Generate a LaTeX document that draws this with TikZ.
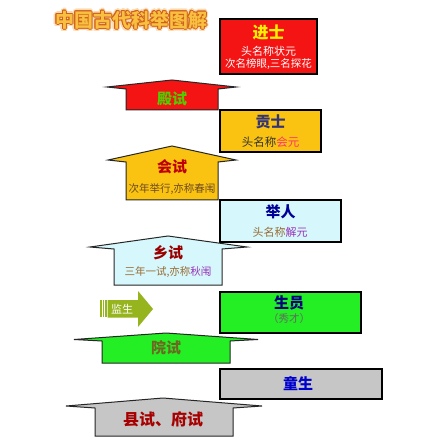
\documentclass[tikz,border=0pt]{standalone}
\usepackage{fontspec}
\setmainfont{Noto Sans CJK SC}
\begin{document}
\begin{tikzpicture}[x=1pt,y=-1pt,
  box/.style={draw=black,line width=2pt,inner sep=0pt},
  arr/.style={draw=black!85,line width=1pt,line join=miter},
  head/.style={font=\bfseries\fontsize{15}{15}\selectfont,inner sep=0pt},
  sub/.style={font=\fontsize{10.5}{11}\selectfont,inner sep=0pt},
  ttl/.style={inner sep=0pt,font=\bfseries\fontsize{19}{19}\selectfont},
  ]
\definecolor{cred}{HTML}{F41414}
\definecolor{cgold}{HTML}{FAC312}
\definecolor{ccyan}{HTML}{D6F8FC}
\definecolor{cgreen}{HTML}{24EE24}
\definecolor{cgray}{HTML}{C6C6C6}
\definecolor{colive}{HTML}{96B41E}
\definecolor{cpurple}{HTML}{9A30B8}
\definecolor{cbrown}{HTML}{9A6A32}
\definecolor{tglow}{HTML}{FBD9B0}
\definecolor{tline}{HTML}{D0601A}
\definecolor{tfill}{HTML}{F8C040}
\useasboundingbox (0,0) rectangle (446,443);
\fill[white] (0,0) rectangle (446,443);

% title: glow, outline, fill
\foreach \dx/\dy in {-2.5/0,2.5/0,0/-2.5,0/2.5,-1.8/-1.8,1.8/1.8,-1.8/1.8,1.8/-1.8}
  \node[ttl,text=tglow] at (131+\dx,20+\dy) {中国古代科举图解};
\foreach \dx/\dy in {-1/0,1/0,0/-1,0/1,-0.7/-0.7,0.7/0.7,-0.7/0.7,0.7/-0.7}
  \node[ttl,text=tline] at (131+\dx,20+\dy) {中国古代科举图解};
\node[ttl,text=tfill] (title) at (131,20) {中国古代科举图解};

% boxes
\node[box,fill=cred,minimum width=97pt,minimum height=55pt] (jinshi) at (268.5,46.5) {};
\node[head,text=yellow,font=\bfseries\fontsize{16}{16}\selectfont] (jinshiT) at (268.5,32) {进士};
\node[sub,text=white,font=\fontsize{11}{11}\selectfont] (jinshiA) at (268.5,51) {头名称状元};
\node[sub,text=white] (jinshiB) at (268.5,64) {次名榜眼,三名探花};

\node[box,fill=cgold,minimum width=101pt,minimum height=42pt] (gongshi) at (270.5,131) {};
\node[head,text=black!55!blue!60!gray] (gongshiT) at (270.5,122) {贡士};
\node[sub,font=\fontsize{11.5}{12}\selectfont] (gongshiA) at (270.5,142) {\textcolor{black!80}{头名称}\textcolor{red!70!magenta!80!white}{会元}};

\node[box,fill=ccyan,minimum width=121pt,minimum height=42pt] (juren) at (280.5,221) {};
\node[head,text=blue!60!black] (jurenT) at (280.5,212) {举人};
\node[sub,font=\fontsize{11}{11}\selectfont] (jurenA) at (280,232) {\textcolor{cbrown}{头名称}\textcolor{cpurple}{解元}};

\node[box,fill=cgreen,minimum width=141pt,minimum height=41pt] (shengyuan) at (290.5,312.5) {};
\node[head,text=blue!50!black] (shengyuanT) at (289,303) {生员};
\node[sub,text=black!60] (shengyuanA) at (289,318.5) {（秀才）};

\node[box,fill=cgray,minimum width=162pt,minimum height=30pt] (tongsheng) at (301,384) {};
\node[head,text=blue!80!black] (tongshengT) at (298,384) {童生};

% up arrows
\filldraw[arr,fill=cred] (126,110) -- (126,89) -- (107,87) -- (172,80) -- (236,87) -- (218,89) -- (218,110) -- cycle;
\node[head,text=green!60!yellow!80!black] (dianshi) at (172,98.5) {殿试};

\filldraw[arr,fill=cgold] (126,200) -- (126,162) -- (108,160) -- (172,146) -- (236,160) -- (218,162) -- (218,200) -- cycle;
\node[head,text=red!75!black] (huishi) at (172,167) {会试};
\node[sub,text=cbrown!70!black] (huishiA) at (172,189) {次年举行,亦称春闱};

\filldraw[arr,fill=ccyan] (114,285) -- (114,249) -- (90,247) -- (168,236) -- (247,247) -- (222,249) -- (222,285) -- cycle;
\node[head,text=red!60!black] (xiangshi) at (168,252.5) {乡试};
\node[sub] (xiangshiA) at (168,272) {\textcolor{cbrown}{三年一试,亦称}\textcolor{cpurple}{秋闱}};

\filldraw[arr,fill=cgreen] (102,363) -- (102,341) -- (74,339.5) -- (166,333) -- (258,339.5) -- (230,341) -- (230,363) -- cycle;
\node[head,text=olive!70!black] (yuanshi) at (166,348) {院试};

\filldraw[arr,fill=cgray] (95,436) -- (95,408) -- (66,406) -- (163,398) -- (262,406) -- (233,408) -- (233,436) -- cycle;
\node[head,text=red!65!black,font=\bfseries\fontsize{16}{16}\selectfont] (xianshi) at (163,419) {县试、府试};

% jiansheng arrow
\fill[colive] (100,300) rectangle (101.5,317);
\fill[colive] (102.5,300) rectangle (104,317);
\fill[colive] (105,300) rectangle (106.5,317);
\fill[colive] (107.5,300) -- (138,300) -- (138,291) -- (153,309) -- (138,327) -- (138,317.5) -- (107.5,317.5) -- cycle;
\node[inner sep=0pt,text=white,font=\fontsize{11}{11}\selectfont] (jiansheng) at (122,309) {监生};
\end{tikzpicture}
\end{document}
